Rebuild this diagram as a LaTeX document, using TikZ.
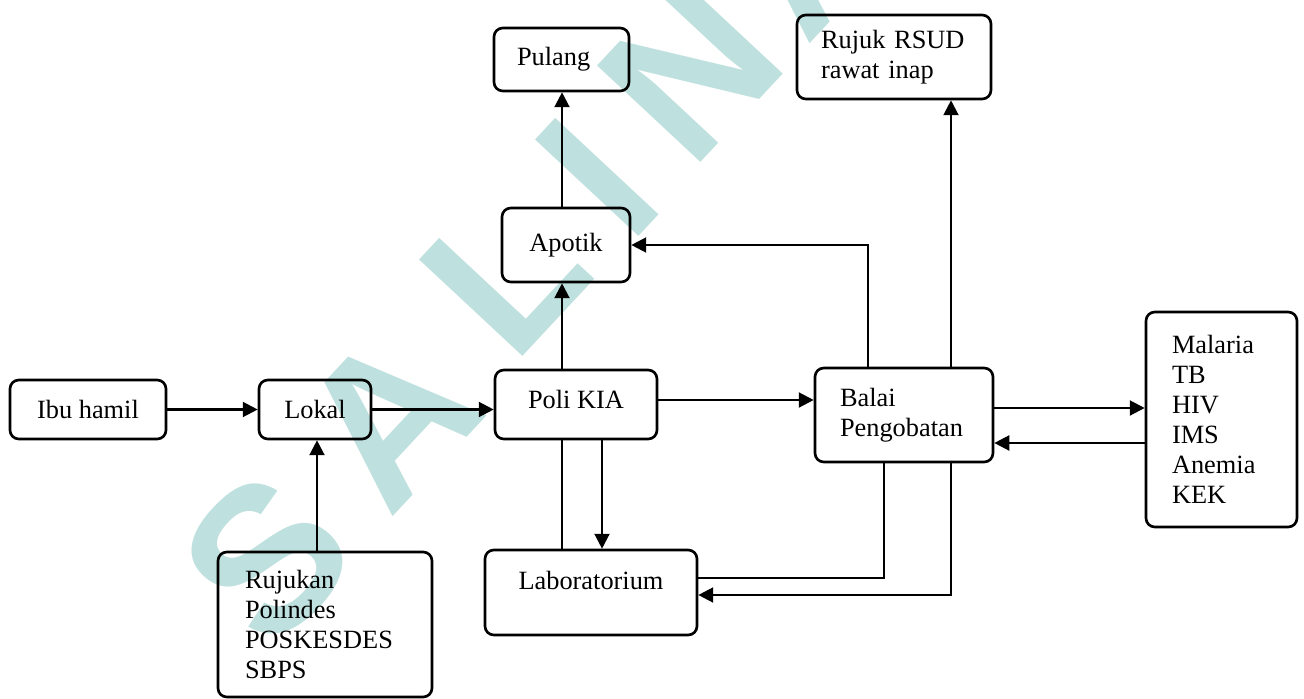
\documentclass[tikz,border=0pt]{standalone}
\usepackage{fontspec}
\setmainfont{Liberation Serif}
\newfontfamily\wmfont{Liberation Sans}
\usetikzlibrary{arrows.meta}
\definecolor{salin}{RGB}{190,224,222}

\begin{document}
\begin{tikzpicture}[x=0.02cm,y=-0.02cm,
  box/.style={draw,line width=1.5pt,rounded corners=5pt,align=left,inner sep=0pt,
    font=\fontsize{15}{17}\selectfont},
  arr/.style={line width=1.3pt,-{Triangle[length=8.5pt,width=8.5pt]}},
  ln/.style={line width=1.3pt},
  wm/.style={text=salin,rotate=47,inner sep=0pt,
    font=\wmfont\bfseries\fontsize{117}{117}\selectfont}]
  \useasboundingbox (0,0) rectangle (1304,699);
  \node[wm] (w1) at (266,558) {S};
  \node[wm] (w2) at (388,418) {A};
  \node[wm] (w3) at (505,272) {L};
  \node[wm] (w4) at (597,177) {I};
  \node[wm] (w5) at (690,70) {N};
  \node[wm] (w6) at (805,-55) {A};

  \node[box,minimum width=3.12cm,minimum height=1.18cm] (ibu) at (88,409.5) {Ibu hamil};
  \node[box,minimum width=2.24cm,minimum height=1.18cm] (lokal) at (315,409.5) {Lokal};
  \node[box,minimum width=3.24cm,minimum height=1.38cm] (poli) at (576,404.5) {Poli KIA\\[-11pt]\mbox{}};
  \node[box,minimum width=4.28cm,minimum height=2.9cm,text width=3.2cm] (rujukan) at (325,624.5)
    {Rujukan\\Polindes\\POSKESDES\\SBPS};
  \node[box,minimum width=4.24cm,minimum height=1.7cm] (lab) at (591,592.5) {Laboratorium\\[-3pt]\mbox{}};
  \node[box,minimum width=2.56cm,minimum height=1.48cm] (apotik) at (566,245) {Apotik};
  \node[box,minimum width=2.7cm,minimum height=1.26cm,text width=1.78cm] (pulang) at (561.5,59.5) {Pulang};
  \node[box,minimum width=3.88cm,minimum height=1.68cm,text width=2.92cm] (rsud) at (894,57) {Rujuk RSUD\\rawat inap};
  \node[box,minimum width=3.56cm,minimum height=1.88cm,text width=2.56cm] (balai) at (904,415) {Balai\\Pengobatan};
  \node[box,minimum width=3.02cm,minimum height=4.3cm,text width=1.98cm] (sakit) at (1221.5,419.5)
    {Malaria\\TB\\HIV\\IMS\\Anemia\\KEK};

  \coordinate (kx) at (562,0);
  \coordinate (lx) at (602,0);
  \coordinate (ax) at (868,0);
  \coordinate (rx) at (951,0);
  \coordinate (bx) at (884,0);
  \coordinate (ux) at (317,0);
  \coordinate (py) at (0,400);
  \coordinate (ly1) at (0,578);
  \coordinate (ly2) at (0,595);
  \coordinate (sy1) at (0,408);
  \coordinate (sy2) at (0,443);

  \draw[arr] (ibu) -- (lokal);
  \draw[arr] (lokal.east) -- (lokal.east -| poli.west);
  \draw[arr] (rujukan.north -| ux) -- (lokal.south -| ux);
  \draw[arr] (poli.north -| kx) -- (apotik.south -| kx);
  \draw[arr] (apotik.north -| kx) -- (pulang.south -| kx);
  \draw[ln] (lab.north -| kx) -- (poli.south -| kx);
  \draw[arr] (poli.south -| lx) -- (lab.north -| lx);
  \draw[arr] (poli.east |- py) -- (balai.west |- py);
  \draw[arr] (balai.north -| ax) |- (apotik.east);
  \draw[arr] (balai.north -| rx) -- (rsud.south -| rx);
  \draw[ln] (balai.south -| bx) |- (lab.east |- ly1);
  \draw[arr] (balai.south -| rx) |- (lab.east |- ly2);
  \draw[arr] (balai.east |- sy1) -- (sakit.west |- sy1);
  \draw[arr] (sakit.west |- sy2) -- (balai.east |- sy2);
\end{tikzpicture}
\end{document}
